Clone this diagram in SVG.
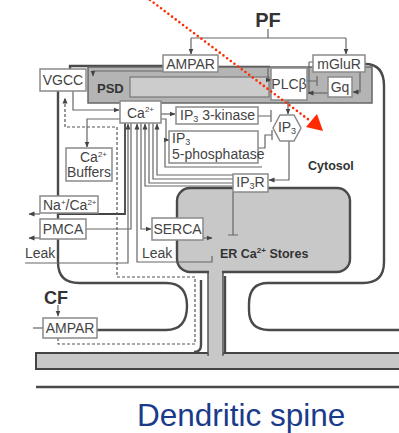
<svg xmlns="http://www.w3.org/2000/svg" width="399" height="433" viewBox="0 0 399 433">
<defs>
<marker id="a" markerWidth="6" markerHeight="6" refX="5.5" refY="3" orient="auto" markerUnits="userSpaceOnUse"><path d="M0,0.5 L6,3 L0,5.5 z" fill="#444"/></marker>
</defs>
<style>
.mem{fill:none;stroke:#4a4a4a;stroke-width:2.4}
.c{fill:none;stroke:#666;stroke-width:1.2}
.d{fill:none;stroke:#555;stroke-width:1.2;stroke-dasharray:3,2}
.box{fill:#fff;stroke:#8a8a8a;stroke-width:1.5}
.t{font-family:"Liberation Sans",Arial,sans-serif;font-size:14px;fill:#444}
.b{font-family:"Liberation Sans",Arial,sans-serif;font-weight:bold;fill:#333}
.s{font-size:8px}
.u{font-size:9px}
</style>
<rect width="399" height="433" fill="#fff"/>

<g id="membrane">
<path class="mem" d="M70,69 V66 H163"/>
<path class="mem" d="M218,67 H270"/>
<path class="mem" d="M365,64 Q384,64 384,86 V262 Q384,283 363,283 H268 Q249,283 249,304 V310 Q249,330 269,330 H399"/>
<path class="mem" d="M58,91 V262 Q58,283 79,283 H166 Q187,283 187,306 Q187,330 166,330 H97"/>
<path class="mem" d="M201,280 V345 Q201,352 194,352"/>
<path class="mem" d="M225,276 V352"/>
<rect x="36" y="353" width="370" height="16" fill="#c8c8c8" stroke="#444" stroke-width="2"/>
<path class="mem" d="M36,387 H399"/>
</g>

<g id="psd">
<rect x="88" y="67" width="284" height="36" fill="#b4b4b4" stroke="#666" stroke-width="1.5"/>
<rect x="130" y="77" width="139" height="20" fill="#cccccc" stroke="#777" stroke-width="1.2"/>
<text class="b" x="97" y="93" font-size="13">PSD</text>
</g>

<g id="er">
<rect x="208" y="262" width="15" height="93" fill="#c8c8c8" stroke="#555" stroke-width="1.5"/>
<rect x="177" y="188" width="173" height="84" rx="13" fill="#c8c8c8" stroke="#4a4a4a" stroke-width="2.4"/>
<rect x="209" y="268" width="13" height="88" fill="#c8c8c8"/>
<text class="b" x="220" y="258" font-size="12.5">ER Ca<tspan class="s" dy="-5">2+</tspan><tspan dy="5"> Stores</tspan></text>
</g>

<text id="cytosol" class="b" x="308" y="170" font-size="12.5">Cytosol</text>
<text id="pf" class="b" x="268" y="27" font-size="20" text-anchor="middle">PF</text>
<text id="cf" class="b" x="44" y="304" font-size="18">CF</text>

<g id="connectors">
<path class="c" d="M268,29 V38"/>
<path class="c" d="M191,38 H346"/>
<path class="c" d="M191,38 V54" marker-end="url(#a)"/>
<path class="c" d="M346,38 V54" marker-end="url(#a)"/>
<path class="c" d="M163,71 H93 V76" marker-end="url(#a)"/>
<path class="c" d="M268,68 V80 H271" marker-end="url(#a)"/>
<path class="c" d="M309,62 H313 M309,62 V93"/>
<path class="c" d="M360,72 V92 H353" marker-end="url(#a)"/>
<path class="c" d="M307,81 H317 M317,76 V86"/>
<path class="c" d="M328,93 H308" marker-end="url(#a)"/>
<path class="c" d="M288,100 V114" marker-end="url(#a)"/>
<path class="c" d="M258,116 H271 M271,110 V122"/>
<path class="c" d="M258,148 H265 V135 H272 M272,130 V140"/>
<path class="c" d="M289,141 V180 H269" marker-end="url(#a)"/>
<path class="c" d="M73,91 V110 H119" marker-end="url(#a)"/>
<path class="c" d="M120,119 H87 V147" marker-end="url(#a)"/>
<path class="c" d="M161,114 H175" marker-end="url(#a)"/>
<path class="c" d="M161,119 H166 V140 H169" marker-end="url(#a)"/>
<path fill="none" stroke="#444" stroke-width="1.8" d="M125,123 V214 H58"/>
<path class="c" d="M40,214 H29" marker-end="url(#a)"/>
<path class="c" d="M25,263 H128 V124" marker-end="url(#a)"/>
<path class="c" d="M131,123 V229 H86"/>
<path class="c" d="M40,238 H29" marker-end="url(#a)"/>
<path class="c" d="M212,256 V262 H137 V124" marker-end="url(#a)"/>
<path class="c" d="M141,123 V229 H151" marker-end="url(#a)"/>
<path class="c" d="M203,238 H212" marker-end="url(#a)"/>
<path class="c" d="M233,186 H145 V124" marker-end="url(#a)"/>
<path class="c" d="M233,183 H149 V123"/>
<path class="c" d="M233,179 H153 V123"/>
<path class="c" d="M262,175 H157 V124" marker-end="url(#a)"/>
<path class="c" d="M233,192 V235 M228,235 H238"/>
<path class="c" d="M262,167 H165 V140"/>
<path class="d" d="M58,338 V344 H195 V277 H117 V127 H65 V98" marker-end="url(#a)"/>
<path class="c" d="M58,305 V316" marker-end="url(#a)"/>
<path class="c" d="M33,328 H43"/>
</g>

<g id="vgcc"><rect class="box" x="40" y="69" width="46" height="22"/><text class="t" x="63" y="85" text-anchor="middle">VGCC</text></g>
<g id="ampar"><rect class="box" x="163" y="55" width="55" height="17"/><text class="t" x="190.5" y="69" text-anchor="middle">AMPAR</text></g>
<g id="mglur"><rect class="box" x="313" y="55" width="52" height="17"/><text class="t" x="339" y="69" text-anchor="middle">mGluR</text></g>
<g id="plcb"><rect class="box" x="271" y="68" width="36" height="32"/><text class="t" x="289" y="89" text-anchor="middle">PLCβ</text></g>
<g id="gq"><rect class="box" x="328" y="77" width="24" height="20"/><text class="t" x="340" y="92" text-anchor="middle">Gq</text></g>
<g id="ca"><rect class="box" x="120" y="101" width="41" height="22"/><text class="t" x="127" y="118">Ca<tspan class="s" dy="-6">2+</tspan></text></g>
<g id="kinase"><rect class="box" x="176" y="107" width="82" height="17"/><text class="t" x="180" y="120" font-size="13">IP<tspan class="u" dy="2">3</tspan><tspan dy="-2"> 3-kinase</tspan></text></g>
<g id="phosphatase"><rect class="box" x="169" y="131" width="89" height="32"/><text class="t" x="172" y="143" font-size="13">IP<tspan class="u" dy="2">3</tspan></text><text class="t" x="172" y="159" font-size="13">5-phosphatase</text></g>
<g id="ip3"><polygon class="box" points="273,128 280,115 294,115 301,128 294,141 280,141"/><text class="t" x="287" y="132" text-anchor="middle" font-size="13">IP<tspan class="u" dy="2">3</tspan></text></g>
<g id="ip3r"><rect class="box" x="233" y="174" width="35" height="18"/><text class="t" x="250.5" y="187" text-anchor="middle" font-size="13">IP<tspan class="u" dy="2">3</tspan><tspan dy="-2">R</tspan></text></g>
<g id="buffers"><rect class="box" x="66" y="148" width="46" height="33"/><text class="t" x="80" y="162" font-size="13">Ca<tspan class="s" dy="-5">2+</tspan></text><text class="t" x="89" y="177" text-anchor="middle" font-size="13">Buffers</text></g>
<g id="naca"><rect class="box" x="40" y="196" width="58" height="17"/><text class="t" x="43" y="210" font-size="12">Na<tspan class="s" dy="-5">+</tspan><tspan dy="5">/Ca</tspan><tspan class="s" dy="-5">2+</tspan></text></g>
<g id="pmca"><rect class="box" x="40" y="219" width="46" height="20"/><text class="t" x="63" y="234" text-anchor="middle">PMCA</text></g>
<text id="leak1" class="t" x="25" y="258">Leak</text>
<g id="serca"><rect class="box" x="152" y="218" width="51" height="22"/><text class="t" x="177.5" y="234" text-anchor="middle">SERCA</text></g>
<text id="leak2" class="t" x="142" y="258">Leak</text>
<g id="ampar-cf"><rect class="box" x="43" y="318" width="54" height="20"/><text class="t" x="70" y="333" text-anchor="middle">AMPAR</text></g>

<g id="pointer">
<path d="M150,0 L309,120" stroke="#ff2a00" stroke-width="2.6" stroke-dasharray="0,4.6" stroke-linecap="round" fill="none"/>
<polygon points="323,131 306,127 317,114" fill="#ff2a00"/>
</g>

<text id="title" x="137" y="426" font-family="Liberation Sans, Arial, sans-serif" font-size="31.5" fill="#1a3a8a">Dendritic spine</text>
</svg>
